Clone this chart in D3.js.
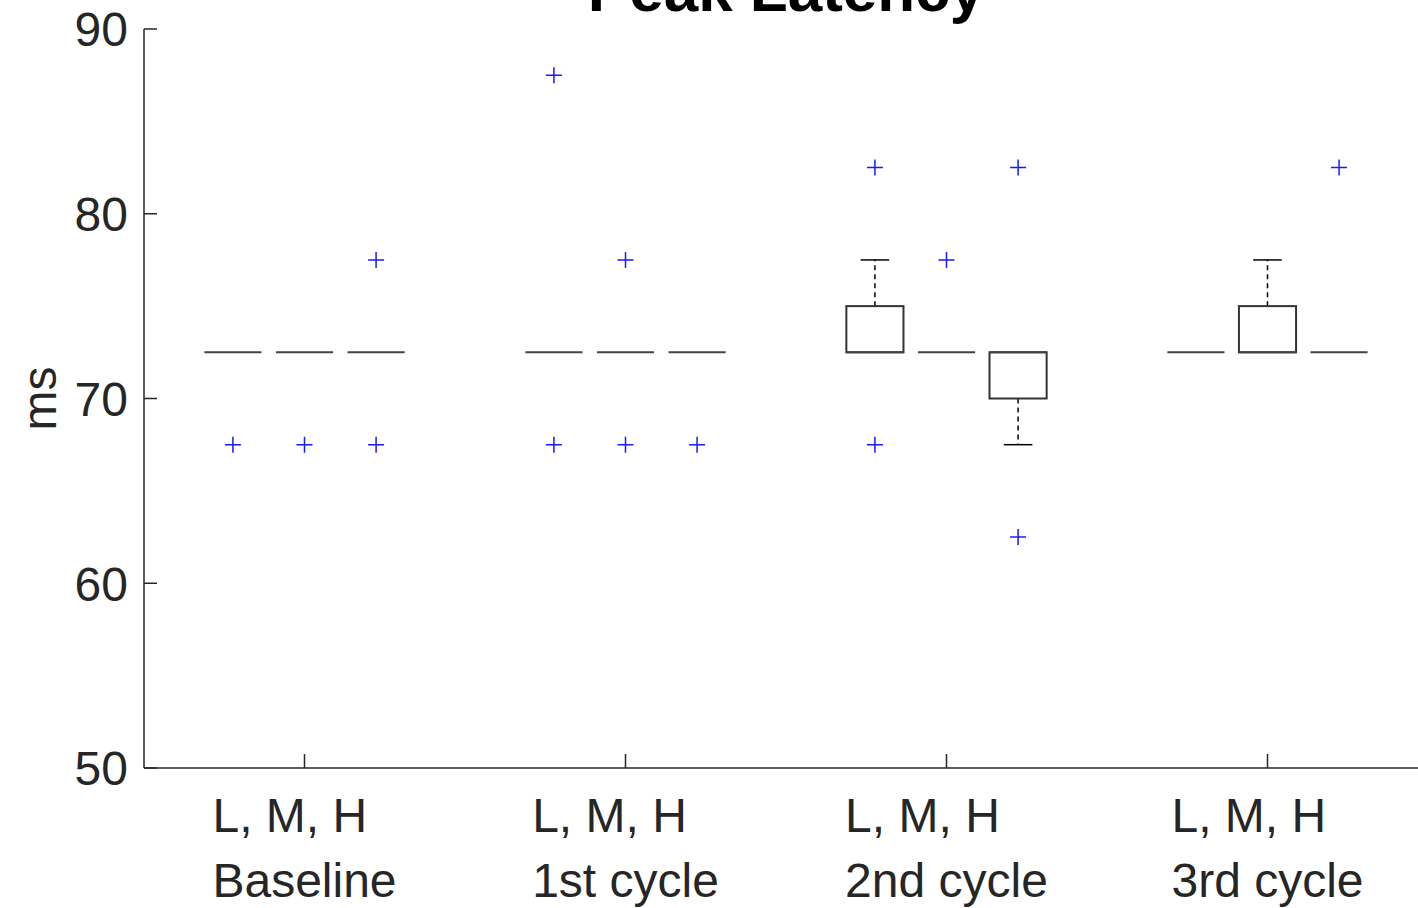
<!DOCTYPE html>
<html>
<head>
<meta charset="utf-8">
<script src="https://cdn.jsdelivr.net/npm/d3@7"></script>
<style>
  html, body { margin: 0; padding: 0; background: #fff; overflow: hidden; }
  svg { display: block; font-family: "Liberation Sans", Arial, sans-serif; }
</style>
</head>
<body>
<svg id="chart" width="1418" height="908"></svg>
<script>
// Peak latency (ms) per session, three levels (L, M, H) each
const sessions = ["Baseline", "1st cycle", "2nd cycle", "3rd cycle"];
const levels = ["L", "M", "H"];
const levelLabel = "L, M, H";

// Box statistics, one entry per session × level (L, M, H)
const q1Values = [72.5, 72.5, 72.5,  72.5, 72.5, 72.5,  72.5, 72.5, 70.0,  72.5, 72.5, 72.5];
const medianValues = [72.5, 72.5, 72.5,  72.5, 72.5, 72.5,  72.5, 72.5, 72.5,  72.5, 72.5, 72.5];
const q3Values = [72.5, 72.5, 72.5,  72.5, 72.5, 72.5,  75.0, 72.5, 72.5,  72.5, 75.0, 72.5];
const lowWhiskers = [72.5, 72.5, 72.5,  72.5, 72.5, 72.5,  72.5, 72.5, 67.5,  72.5, 72.5, 72.5];
const highWhiskers = [72.5, 72.5, 72.5,  72.5, 72.5, 72.5,  77.5, 72.5, 72.5,  72.5, 77.5, 72.5];
const outlierValues = [
  [67.5], [67.5], [67.5, 77.5],
  [67.5, 87.5], [67.5, 77.5], [67.5],
  [67.5, 82.5], [77.5], [62.5, 82.5],
  [], [], [82.5]
];
const yTicks = [50, 60, 70, 80, 90];

const svg = d3.select("#chart");
const axisColor = "#262626";
const plotLeft = 144, plotRight = 1428, plotTop = 29, plotBottom = 768;

const x = d3.scaleLinear().domain([0.5, sessions.length + 0.5]).range([plotLeft, plotRight]);
const y = d3.scaleLinear().domain([50, 90]).range([plotBottom, plotTop]);

const levelOffset = 0.223;   // spacing between boxes inside a session group
const boxHalf = 0.089;       // half box width, data units
const capHalf = 0.0445;      // half whisker cap width

const boxes = q1Values.map((q, i) => {
  const g = Math.floor(i / levels.length);
  const l = i % levels.length;
  return {
    pos: g + 1 + (l - 1) * levelOffset,
    q1: q, med: medianValues[i], q3: q3Values[i],
    lo: lowWhiskers[i], hi: highWhiskers[i],
    out: outlierValues[i]
  };
});

// Title (sits partly above the top edge of the figure)
svg.append("text")
  .attr("x", (plotLeft + plotRight) / 2)
  .attr("y", 11)
  .attr("text-anchor", "middle")
  .attr("font-size", 62)
  .attr("font-weight", "bold")
  .attr("fill", "#000")
  .text("Peak Latency");

// Axes
const axisG = svg.append("g");
axisG.append("line")
  .attr("x1", plotLeft).attr("x2", plotLeft).attr("y1", plotTop).attr("y2", plotBottom)
  .attr("stroke", axisColor).attr("stroke-width", 1.5);
axisG.append("line")
  .attr("x1", plotLeft).attr("x2", plotRight).attr("y1", plotBottom).attr("y2", plotBottom)
  .attr("stroke", axisColor).attr("stroke-width", 1.5);

// Y ticks (inward) and labels
axisG.selectAll(".ytick").data(yTicks).join("line")
  .attr("x1", plotLeft).attr("x2", plotLeft + 13)
  .attr("y1", d => y(d)).attr("y2", d => y(d))
  .attr("stroke", axisColor).attr("stroke-width", 1.5);
axisG.selectAll(".ylab").data(yTicks).join("text")
  .attr("x", plotLeft - 16)
  .attr("y", d => y(d))
  .attr("dy", "0.36em")
  .attr("text-anchor", "end")
  .attr("font-size", 48)
  .attr("fill", axisColor)
  .text(d => d);

// X ticks (inward)
axisG.selectAll(".xtick").data(sessions).join("line")
  .attr("x1", (d, i) => x(i + 1)).attr("x2", (d, i) => x(i + 1))
  .attr("y1", plotBottom).attr("y2", plotBottom - 14)
  .attr("stroke", axisColor).attr("stroke-width", 1.5);

// Two-line session labels, left-aligned as a block centred on the tick
sessions.forEach((s, i) => {
  const g = axisG.append("g");
  const t1 = g.append("text").attr("y", 832).attr("font-size", 48).attr("fill", axisColor).text(levelLabel);
  const t2 = g.append("text").attr("y", 897).attr("font-size", 48).attr("fill", axisColor).text(s);
  const w = Math.max(t1.node().getComputedTextLength(), t2.node().getComputedTextLength());
  const x0 = x(i + 1) - w / 2;
  t1.attr("x", x0);
  t2.attr("x", x0);
});

// Y axis label
svg.append("text")
  .attr("transform", `translate(56, ${(plotTop + plotBottom) / 2}) rotate(-90)`)
  .attr("text-anchor", "middle")
  .attr("font-size", 48)
  .attr("fill", axisColor)
  .text("ms");

// Boxes
const boxG = svg.append("g");
boxes.forEach(b => {
  const cx = x(b.pos);
  const bx0 = x(b.pos - boxHalf), bx1 = x(b.pos + boxHalf);
  const cw = x(b.pos + capHalf) - cx;
  // whiskers
  if (b.hi > b.q3) {
    boxG.append("line").attr("x1", cx).attr("x2", cx).attr("y1", y(b.q3)).attr("y2", y(b.hi))
      .attr("stroke", "#000").attr("stroke-width", 1.5).attr("stroke-dasharray", "5,4");
    boxG.append("line").attr("x1", cx - cw).attr("x2", cx + cw).attr("y1", y(b.hi)).attr("y2", y(b.hi))
      .attr("stroke", "#000").attr("stroke-width", 1.5);
  }
  if (b.lo < b.q1) {
    boxG.append("line").attr("x1", cx).attr("x2", cx).attr("y1", y(b.q1)).attr("y2", y(b.lo))
      .attr("stroke", "#000").attr("stroke-width", 1.5).attr("stroke-dasharray", "5,4");
    boxG.append("line").attr("x1", cx - cw).attr("x2", cx + cw).attr("y1", y(b.lo)).attr("y2", y(b.lo))
      .attr("stroke", "#000").attr("stroke-width", 1.5);
  }
  // box
  if (b.q3 > b.q1) {
    boxG.append("rect")
      .attr("x", bx0).attr("y", y(b.q3))
      .attr("width", bx1 - bx0).attr("height", y(b.q1) - y(b.q3))
      .attr("fill", "none").attr("stroke", "#333").attr("stroke-width", 2);
  }
  // median
  boxG.append("line")
    .attr("x1", bx0).attr("x2", bx1).attr("y1", y(b.med)).attr("y2", y(b.med))
    .attr("stroke", "#444").attr("stroke-width", 2);
  // outliers
  b.out.forEach(v => {
    const oy = y(v);
    boxG.append("path")
      .attr("d", `M${cx - 8},${oy}H${cx + 8}M${cx},${oy - 8}V${oy + 8}`)
      .attr("stroke", "#1a1aff").attr("stroke-width", 1.5).attr("fill", "none");
  });
});
</script>
</body>
</html>
